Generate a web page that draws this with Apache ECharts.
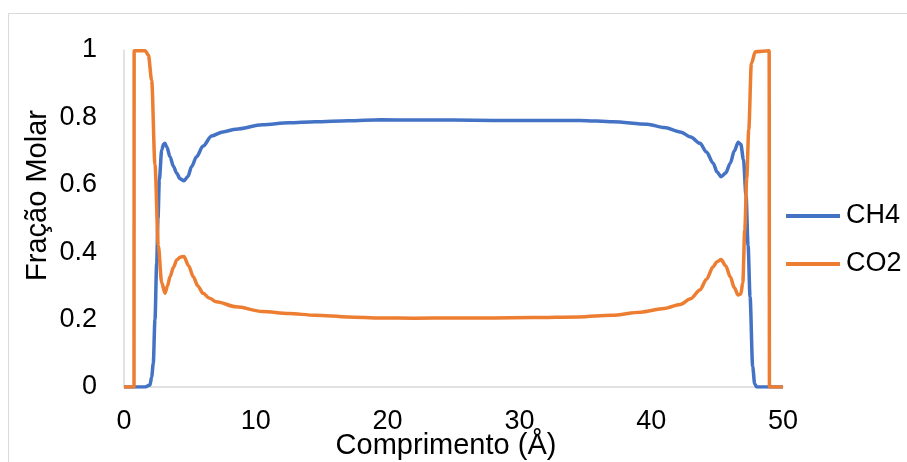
<!DOCTYPE html>
<html>
<head>
<meta charset="utf-8">
<script src="https://cdn.jsdelivr.net/npm/echarts/dist/echarts.min.js"></script>
<style>html,body{margin:0;padding:0;background:#fff}#c{width:907px;height:462px}</style>
</head>
<body>
<div id="c"></div>
<script>
const seriesNames = ['CH4', 'CO2'];
const xTickMin = 0, xTickMax = 50, xTickStep = 10;
const yTickMin = 0, yTickMax = 1, yTickStep = 0.2;

const ch4X = [0, 1.6, 1.97, 2.1, 2.22, 2.35, 2.48, 2.58, 2.68, 2.86, 3.0, 3.11, 3.25, 3.49, 3.75, 4.0, 4.25, 4.55, 4.85, 5.13, 5.5, 6.0, 6.65, 7.5, 8.5, 10.5, 12.5, 14.5, 17, 19.5, 22, 25, 28, 31, 34.6, 37.1, 39.7, 41, 42.2, 43.0, 43.7, 44.2, 44.7, 45.0, 45.3, 45.65, 46.0, 46.3, 46.6, 46.8, 47.0, 47.2, 47.35, 47.5, 47.7, 47.85, 48.0, 50];
const ch4Y = [0, 0, 0.006, 0.03, 0.07, 0.2, 0.367, 0.5, 0.614, 0.703, 0.72, 0.723, 0.712, 0.683, 0.655, 0.634, 0.618, 0.612, 0.625, 0.654, 0.683, 0.715, 0.745, 0.757, 0.765, 0.778, 0.784, 0.787, 0.79, 0.793, 0.792, 0.792, 0.791, 0.791, 0.791, 0.787, 0.78, 0.77, 0.757, 0.742, 0.723, 0.697, 0.664, 0.638, 0.624, 0.635, 0.664, 0.7, 0.726, 0.72, 0.675, 0.565, 0.42, 0.268, 0.06, 0.01, 0, 0];

const co2X = [0, 0.76, 0.77, 1.6, 1.85, 2.1, 2.35, 2.6, 2.86, 3.11, 3.3, 3.49, 3.75, 4.0, 4.3, 4.55, 4.9, 5.26, 5.6, 6.0, 6.5, 7.0, 8.5, 10.5, 12.5, 14.5, 17, 19.5, 22, 25, 28, 31, 34.5, 37, 39.2, 41, 42.2, 43.0, 43.7, 44.2, 44.7, 45.0, 45.3, 45.65, 46.0, 46.3, 46.6, 46.8, 46.95, 47.1, 47.25, 47.4, 47.6, 47.9, 48.95, 48.97, 50];
const co2Y = [0, 0, 0.998, 0.998, 0.985, 0.91, 0.66, 0.42, 0.31, 0.278, 0.3, 0.327, 0.355, 0.377, 0.386, 0.387, 0.36, 0.327, 0.3, 0.278, 0.263, 0.253, 0.238, 0.224, 0.218, 0.213, 0.208, 0.205, 0.204, 0.205, 0.205, 0.206, 0.208, 0.213, 0.222, 0.233, 0.245, 0.262, 0.288, 0.32, 0.357, 0.372, 0.378, 0.36, 0.327, 0.295, 0.273, 0.276, 0.31, 0.466, 0.62, 0.763, 0.96, 0.995, 0.998, 0, 0];

const zip = (xs, ys) => xs.map((x, i) => [x, ys[i]]);
const FONT = 'Liberation Sans';

const chart = echarts.init(document.getElementById('c'), null, {renderer: 'canvas'});
chart.setOption({
  animation: false,
  backgroundColor: '#fff',
  textStyle: {fontFamily: FONT, color: '#000'},
  graphic: [{
    type: 'rect',
    shape: {x: 8.5, y: 13.5, width: 1000, height: 1000},
    style: {fill: 'none', stroke: '#d9d9d9', lineWidth: 1},
    silent: true
  }],
  grid: {left: 124, right: 124, top: 50, bottom: 75, containLabel: false, outerBoundsMode: 'none'},
  legend: {
    data: seriesNames.map(n => ({name: n, icon: 'rect'})),
    orient: 'vertical',
    left: 786, top: 202,
    padding: 0,
    itemWidth: 54, itemHeight: 4, itemGap: 20,
    textStyle: {fontFamily: FONT, fontSize: 27, color: '#000', lineHeight: 28, padding: [0, 0, 0, 1]}
  },
  xAxis: {
    type: 'value', min: xTickMin, max: xTickMax, interval: xTickStep,
    name: 'Comprimento (Å)', nameLocation: 'middle', nameGap: 44, nameMoveOverlap: false,
    nameTextStyle: {fontFamily: FONT, fontSize: 29, color: '#000', padding: [0, 15, 0, 0]},
    axisLine: {show: true, lineStyle: {color: '#d9d9d9', width: 1.5}},
    axisTick: {show: false},
    splitLine: {show: false},
    axisLabel: {fontFamily: FONT, fontSize: 27, color: '#000', margin: 21}
  },
  yAxis: {
    type: 'value', min: yTickMin, max: yTickMax, interval: yTickStep,
    name: 'Fração Molar', nameLocation: 'middle', nameGap: 72, nameRotate: 90, nameMoveOverlap: false,
    nameTextStyle: {fontFamily: FONT, fontSize: 29, color: '#000', padding: [0, 0, 0, 46]},
    axisLine: {show: true, lineStyle: {color: '#d9d9d9', width: 1.5}},
    axisTick: {show: false},
    splitLine: {show: false},
    axisLabel: {fontFamily: FONT, fontSize: 27, color: '#000', margin: 27,
      formatter: v => (v === 0 || v === 1) ? String(v) : v.toFixed(1)}
  },
  series: [
    {name: seriesNames[0], type: 'line', data: zip(ch4X, ch4Y), showSymbol: false, symbol: 'none',
     smooth: 0.3, smoothMonotone: 'x',
     lineStyle: {color: '#4472C4', width: 3.5}, itemStyle: {color: '#4472C4'}},
    {name: seriesNames[1], type: 'line', data: zip(co2X, co2Y), showSymbol: false, symbol: 'none',
     smooth: 0.3, smoothMonotone: 'x',
     lineStyle: {color: '#ED7D31', width: 3.5}, itemStyle: {color: '#ED7D31'}}
  ]
});
</script>
</body>
</html>
